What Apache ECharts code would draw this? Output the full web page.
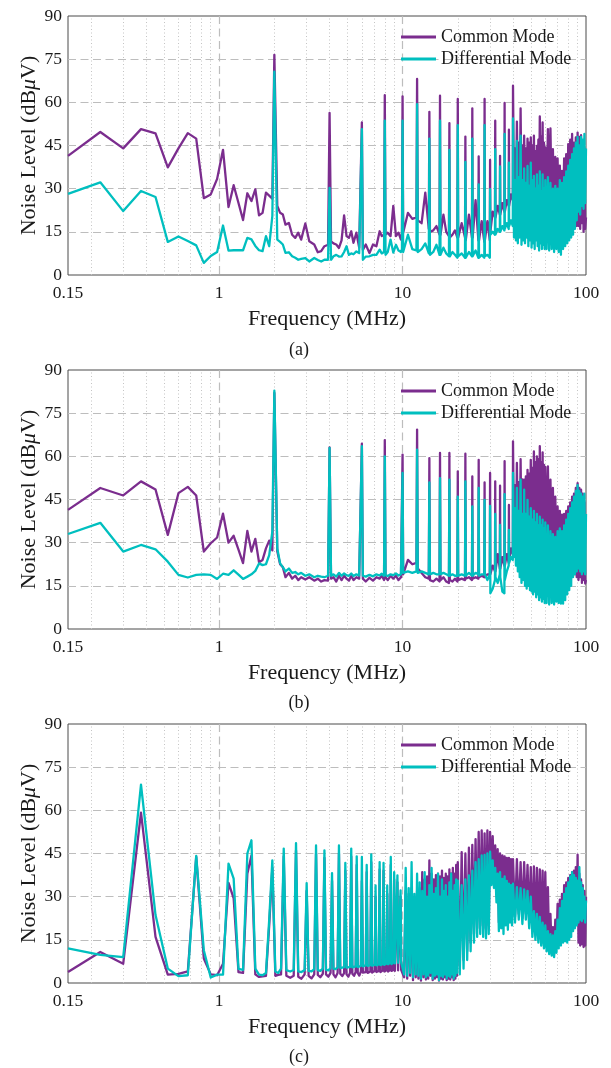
<!DOCTYPE html>
<html>
<head>
<meta charset="utf-8">
<script src="https://cdn.jsdelivr.net/npm/echarts@6/dist/echarts.min.js"></script>
<style>
  html, body { margin: 0; padding: 0; background: #fff; }
  #chart { width: 611px; height: 1068px; }
</style>
</head>
<body>
<div id="chart"></div>
<script>
// frequency grid (MHz) shared by panels (a) and (b)
const freqAB = [
  0.15, 0.225, 0.3, 0.375, 0.45, 0.525, 0.6, 0.675, 0.75, 0.825, 0.9, 0.975, 1.05, 1.125, 1.2, 1.275, 1.35, 1.425, 1.5, 1.575, 1.65, 1.725, 1.8, 1.875, 1.95, 2.0,
  2.075, 2.15, 2.225, 2.3, 2.4, 2.5, 2.6, 2.7, 2.8, 2.95, 3.1, 3.3, 3.45, 3.6, 3.75, 3.925, 4.0, 4.075, 4.2, 4.35, 4.5, 4.65, 4.8, 4.95, 5.1, 5.25, 5.4, 5.6, 5.8, 5.925, 6.0, 6.075, 6.3, 6.6, 6.9, 7.2, 7.5, 7.7, 7.925, 8.0, 8.075, 8.3, 8.6, 8.9, 9.2, 9.5, 9.8, 9.925, 10.0, 10.075,
  10.7, 11.3, 11.9, 12, 12.1, 12.7, 13.3, 13.9, 14, 14.1, 14.7, 15.3, 15.9, 16, 16.1, 16.7, 17.3, 17.9, 18, 18.1, 18.7, 19.3, 19.9, 20, 20.1,
  21, 21.9, 22, 22.1, 23, 23.9, 24, 24.1, 25, 25.9, 26, 26.1, 27, 27.9, 28, 28.1, 29, 29.9, 30, 30.1, 31, 31.9, 32, 32.1, 33, 33.9, 34, 34.1, 35, 35.9, 36, 36.1, 37, 37.9, 38, 38.1, 39, 39.9, 40,
  40.5, 41, 41.5, 42, 42.5, 43, 43.5, 44, 44.5, 45, 45.5, 46, 46.5, 47, 47.5, 48, 48.5, 49, 49.5, 50, 50.5, 51, 51.5, 52, 52.5, 53, 53.5, 54, 54.5, 55, 55.5, 56, 56.5, 57, 57.5, 58, 58.5, 59, 59.5, 60,
  61, 62, 63, 64, 65, 66, 67, 68, 69, 70, 71, 72, 73, 74, 75, 76, 77, 78, 79, 80, 81, 82, 83, 84, 85, 86, 87, 88, 89, 90, 91, 92, 93, 94, 95, 96, 97, 98, 99, 100
];

// (a) values, dBuV
const cmA = [
  41.4, 49.7, 44.0, 50.7, 49.2, 37.4, 44.0, 49.3, 47.4, 26.7, 28.0, 33.4, 43.5, 23.6, 31.2, 25.0, 19.1, 28.4, 25.7, 29.8, 20.7, 21.6, 28.6, 27.6, 26.5, 76.5,
  24.0, 21.6, 21.0, 17.5, 18.1, 14.0, 12.9, 14.7, 12.3, 17.9, 11.7, 10.6, 7.9, 8.3, 10.0, 10.5, 56.3, 11.7, 11.0, 10.6, 9.4, 12.0, 20.7, 13.5, 12.9, 15.2, 11.2, 14.7, 9.5, 10.0, 53.0, 8.7, 10.6, 7.6, 10.6, 10.0, 15.2, 13.5, 14.0, 62.5, 14.0, 14.7, 13.5, 24.0, 13.5, 14.7, 12.3, 14.7, 62.1, 14.7,
  21.6, 19.5, 20, 68.1, 19, 18, 28.6, 16, 56.7, 15, 15.5, 17, 14, 62.3, 14, 21, 15, 13.5, 52.8, 13, 14, 15.5, 13, 61.2, 13,
  18, 13, 48.1, 12, 21, 13, 57.9, 13, 26, 12, 41.2, 12, 18.7, 11.5, 61.2, 12, 18.7, 12, 40, 15, 22, 20, 53.6, 20, 24, 21, 41.4, 21, 25, 22, 59.8, 22, 26, 24, 50.5, 24, 28, 26, 65.8,
  26, 44, 25, 53.3, 27, 46, 24, 57.9, 26, 45, 25, 48.4, 27, 44, 24, 47.4, 26, 46, 25, 47.8, 27, 45, 26, 48.4, 24, 43, 27, 44.9, 25, 47, 26, 55.1, 28, 48, 25, 53, 27, 46, 26, 44.3,
  26, 50.7, 25, 50.9, 24, 43.7, 23, 41, 22, 40.5, 21, 38, 20, 36.2, 20, 40.5, 19, 42, 18, 45.5, 18, 47, 18, 49, 17, 46, 17, 47.8, 17, 49.5, 17, 48, 16, 48.6, 18, 45, 15, 44, 16, 20
];
const dmA = [
  28.2, 32.2, 22.2, 29.2, 27.1, 11.5, 13.4, 11.8, 10.3, 4.2, 6.6, 8.0, 17.2, 8.5, 8.6, 8.6, 8.6, 12.9, 12.4, 10.1, 8.6, 8.3, 13.5, 10.0, 20.5, 70.7,
  12.3, 11.5, 10.6, 7.7, 7.9, 6.5, 6.0, 5.3, 5.6, 5.9, 4.7, 5.9, 5.2, 4.7, 5.3, 5.3, 30.3, 5.3, 6.5, 7.0, 6.4, 6.5, 8.0, 10.0, 7.0, 7.5, 7.2, 8.2, 7.6, 7.8, 50.7, 5.3, 6.4, 6.5, 7.0, 7.0, 8.8, 7.5, 8.0, 53.6, 7.0, 8.0, 12.3, 7.8, 10.5, 8.5, 8.0, 9.0, 53.6, 8.0,
  14, 9, 8.5, 59.4, 8, 9, 11, 7.5, 47.4, 7, 8, 10.5, 7, 53.6, 7, 9.5, 7.5, 6.5, 43.5, 6.5, 8, 7, 6, 52.1, 6.5,
  7.5, 6, 39.3, 6, 8, 6.5, 47.4, 6.5, 8.5, 6, 31.5, 6, 7, 6, 52.1, 6.5, 7, 6, 29.8, 14, 15, 14, 43.7, 14, 16, 15, 37.7, 15, 17, 15.5, 49, 16, 18, 16, 39, 17, 19, 17, 54.4,
  13, 33, 12, 46.6, 11, 34, 13, 48.4, 10.5, 33, 12, 37, 11, 32, 13, 37.9, 10, 31, 12, 39, 9.5, 33, 11, 34.4, 9, 30, 12, 35, 10, 31, 8.5, 36, 11, 29, 9, 35, 10.5, 30, 9, 33,
  9, 34, 8.5, 32, 9, 30, 8, 31, 9, 30, 8, 33, 7, 32, 9, 34, 10, 36, 11, 38, 12, 40, 13, 42, 14, 44, 16, 46, 19, 48, 22, 45, 21, 48, 24, 47, 23, 49, 25, 44
];

// (b) values, dBuV
const cmB = [
  41.4, 49.0, 46.4, 51.3, 48.5, 32.7, 47.2, 49.4, 46.4, 26.9, 29.8, 31.8, 40.1, 30.0, 32.4, 27.6, 22.9, 34.1, 26.9, 31.3, 23.2, 24.0, 28.0, 30.7, 27.3, 82.0,
  27.0, 22.5, 21.5, 18.0, 19.5, 17.5, 18.5, 17.0, 18.0, 17.2, 18.0, 16.8, 17.5, 16.5, 17.0, 16.8, 63.1, 17.5, 18.0, 16.5, 18.5, 17.0, 18.5, 17.5, 16.8, 18.5, 17.0, 18.0, 17.5, 17.0, 64.4, 17.5, 16.5, 17.8, 16.8, 18.0, 17.5, 18.5, 17.0, 65.6, 18.0, 17.0, 18.5, 17.5, 18.5, 17.0, 18.0, 17.5, 60.6, 19.0,
  24, 22.5, 23, 69.3, 21, 19.5, 18, 17.5, 59.4, 17, 16.5, 17.5, 16.5, 61.2, 17, 18, 16.5, 16, 61.2, 17, 16.5, 17.5, 16.5, 54.8, 17,
  17.5, 17, 60.9, 17.5, 18, 17, 53, 17.5, 18, 17.5, 58.8, 18, 18.5, 18, 50.9, 18, 19, 19, 54.2, 19, 22, 20, 51.3, 20, 26, 21, 49.8, 21, 25, 22, 58.3, 22, 26, 23, 43.1, 24, 28, 26, 65.2,
  28, 50, 29, 57.7, 30, 51, 29, 59, 31, 52, 30, 51.9, 32, 53, 31, 55.3, 30, 54, 32, 58.8, 31, 56, 30, 61.7, 32, 58, 31, 60, 30, 59, 32, 63.5, 31, 58, 30, 61.4, 31, 57, 30, 56.3,
  29, 56.5, 28, 51.9, 27, 49, 26, 46, 25, 42.6, 24, 41, 23, 39.7, 22, 40, 22, 41, 21, 42.6, 20, 44, 20, 46, 19, 47, 19, 49, 18, 50.7, 17, 49, 18, 48.4, 16, 47, 17, 44, 15.8, 17
];
const dmB = [
  33.0, 36.9, 26.9, 29.2, 27.7, 23.4, 18.8, 17.9, 18.8, 19.0, 18.8, 17.4, 19.2, 18.8, 20.4, 18.9, 17.4, 18.2, 19.0, 20.2, 22.8, 22.2, 22.5, 25.7, 33.8, 82.8,
  28.0, 22.8, 21.5, 20.0, 21.0, 19.5, 19.8, 19.0, 19.5, 18.5, 19.0, 18.0, 18.5, 18.2, 18.0, 18.5, 62.9, 18.5, 19.0, 18.2, 19.5, 18.5, 19.3, 18.7, 18.5, 19.3, 18.4, 19.0, 18.6, 18.5, 63.5, 18.5, 18.2, 18.8, 18.3, 19.0, 18.6, 19.2, 18.5, 60.0, 18.8, 18.4, 19.0, 18.7, 19.3, 18.6, 19.0, 18.8, 54.2, 19.5,
  20, 19.5, 20, 62.3, 19.5, 20, 19.5, 19, 50.9, 19, 19.5, 19, 19, 52.4, 19, 19.5, 19, 18.5, 51.9, 18.5, 19, 18.5, 18.5, 46, 18.5,
  19, 18.5, 51.3, 18.5, 19.5, 18.5, 42.6, 18.5, 19.5, 19, 49, 18.5, 19, 19, 44.9, 19, 17, 19, 42.8, 12.4, 14, 17, 40, 18, 16, 19, 36.2, 18, 13, 12.4, 46.9, 17, 20, 22, 34.4, 23, 25, 24, 54.2,
  25, 42, 22, 49, 20, 41, 18, 51.9, 16, 40, 17, 48.4, 15, 40, 14, 44.9, 15, 39, 13.5, 42, 13, 38, 12, 41, 13, 37, 11, 40, 12, 36, 10, 39, 11, 36, 9.5, 38, 10.5, 35, 9, 37,
  9, 36, 8.5, 34, 9, 33, 8.5, 32, 9.5, 34, 9, 35, 8.8, 34, 8.8, 36, 10, 38, 12, 40, 13.5, 42, 15, 44, 18, 46, 19, 48, 20, 50, 21, 48, 20, 47, 19, 46, 20, 47, 19, 40
];

// (c) frequency grid (MHz) and values
const freqC = [
  0.15, 0.225, 0.3, 0.375, 0.45, 0.525, 0.6, 0.675, 0.75, 0.825, 0.9, 0.975, 1.05, 1.125, 1.2, 1.275, 1.35, 1.425, 1.5, 1.575, 1.65, 1.725, 1.8, 1.875, 1.95, 2.025, 2.1,
  2.175, 2.25, 2.325, 2.44, 2.55, 2.625, 2.7, 2.81, 2.925, 3.0, 3.075, 3.19, 3.3, 3.375, 3.45, 3.56, 3.675, 3.75, 3.825, 3.94, 4.05, 4.125, 4.2, 4.31, 4.425, 4.5, 4.575, 4.69, 4.8, 4.875, 4.95, 5.06, 5.175, 5.25, 5.325, 5.44, 5.55, 5.625, 5.7, 5.81,
  5.925, 6.0, 6.075, 6.3, 6.375, 6.45, 6.675, 6.75, 6.825, 7.05, 7.125, 7.2, 7.425, 7.5, 7.575, 7.8, 7.875, 7.95, 8.175, 8.25, 8.325, 8.55, 8.625, 8.7, 8.925, 9.0, 9.075, 9.3, 9.375, 9.45, 9.675, 9.75, 9.825,
  10.2, 10.4, 10.6, 10.8, 11, 11.2, 11.4, 11.6, 11.8, 12, 12.2, 12.4, 12.6, 12.8, 13, 13.2, 13.4, 13.6, 13.8, 14, 14.2, 14.4, 14.6, 14.8, 15, 15.2, 15.4, 15.6, 15.8, 16, 16.2, 16.4, 16.6, 16.8, 17, 17.2, 17.4, 17.6, 17.8, 18, 18.2, 18.4, 18.6, 18.8, 19, 19.2, 19.4, 19.6, 19.8, 20,
  20.5, 21, 21.5, 22, 22.5, 23, 23.5, 24, 24.5, 25, 25.5, 26, 26.5, 27, 27.5, 28, 28.5, 29, 29.5, 30, 30.5, 31, 31.5, 32, 32.5, 33, 33.5, 34, 34.5, 35, 35.5, 36, 36.5, 37, 37.5, 38, 38.5, 39, 39.5, 40,
  41, 42, 43, 44, 45, 46, 47, 48, 49, 50, 51, 52, 53, 54, 55, 56, 57, 58, 59, 60, 61, 62, 63, 64, 65, 66, 67, 68, 69, 70, 71, 72, 73, 74, 75, 76, 77, 78, 79, 80, 81, 82, 83, 84, 85, 86, 87, 88, 89, 90, 91, 92, 93, 94, 95, 96, 97, 98, 99, 100
];
const cmC = [
  3.8, 10.8, 6.7, 59.2, 16.0, 2.9, 3.2, 4.0, 43.8, 8.5, 3.0, 2.7, 6.7, 34.8, 29.4, 3.8, 3.5, 38.0, 44.3, 3.0, 2.1, 2.3, 2.5, 20.0, 40.0, 2.5, 2.8,
  3.0, 44.0, 2.5, 1.8, 2.5, 46.0, 2.2, 1.5, 3.0, 32.0, 2.5, 1.6, 3.0, 45.0, 2.8, 2.0, 3.2, 43.5, 3.0, 2.2, 3.5, 35.5, 3.0, 2.0, 3.5, 45.0, 3.2, 2.4, 3.4, 39.0, 3.0, 2.2, 3.6, 44.0, 3.2, 2.5, 3.8, 41.0, 3.4, 2.6,
  4.0, 35.4, 3.6, 3.8, 38.5, 3.5, 4.0, 42.0, 3.6, 4.2, 30.0, 3.8, 4.2, 39.5, 3.8, 4.4, 39.0, 4.0, 4.4, 31.0, 4.0, 4.6, 41.0, 4.2, 4.6, 36.0, 4.2, 4.8, 35.0, 4.4, 5.0, 30.0, 4.6,
  2, 32, 1.5, 31, 2.5, 33, 1, 30, 2, 32, 1.5, 33, 0.8, 38.5, 2, 36, 1.2, 37, 1.5, 42.6, 2.5, 38, 1, 36, 1.5, 37.5, 2, 38, 0.8, 37, 1.5, 39, 1.2, 36.5, 2, 38, 1, 37, 1.5, 39.5, 1.2, 38, 2, 40, 1, 38, 1.5, 41, 2.5, 42,
  6, 45.5, 8, 45, 11, 47, 14, 48, 17, 50, 19, 52.5, 20, 53, 19, 52, 18.5, 53, 20, 52.5, 37, 51, 36, 47.8, 31, 46.5, 21, 45, 22, 44.3, 20, 44, 23, 43.5, 21.5, 43.5, 24, 43, 23, 43,
  23, 43, 24, 42, 22.5, 42, 24, 41, 21, 40.3, 18, 40.5, 17, 40, 16, 39.5, 15, 39, 14, 38.5, 13, 33.3, 12, 24, 11, 19.4, 10, 22, 12, 27.5, 14, 29, 15, 31, 16, 34, 16.5, 35, 16, 36.5, 17, 37.5, 18, 38.5, 20, 39, 21, 40.3, 22, 44.6, 14, 38, 13, 36, 13.5, 34, 12.5, 32, 13, 30
];
const dmC = [
  12.0, 9.8, 9.0, 68.9, 23.6, 5.0, 2.4, 2.7, 44.2, 11.4, 1.9, 2.9, 2.9, 41.5, 36.3, 4.9, 4.6, 45.0, 49.6, 5.0, 2.9, 2.7, 3.5, 22.0, 42.6, 4.0, 3.5,
  5.0, 46.7, 4.5, 4.0, 4.5, 48.6, 4.0, 3.8, 4.5, 34.7, 4.2, 4.0, 4.8, 47.8, 4.5, 4.2, 5.0, 46.1, 4.6, 4.4, 5.2, 38.2, 5.0, 4.8, 5.4, 47.8, 5.2, 5.0, 5.5, 41.7, 5.3, 5.1, 5.6, 46.7, 5.4, 5.2, 5.8, 44.0, 5.5, 5.3,
  6.0, 43.8, 5.8, 6.2, 41.0, 5.9, 6.2, 44.7, 6.0, 6.4, 33.9, 6.1, 6.5, 42.0, 6.2, 6.6, 41.7, 6.3, 6.8, 33.9, 6.5, 7.0, 43.8, 6.6, 7.2, 38.5, 6.8, 7.4, 37.4, 7.0, 7.5, 32.2, 7.2,
  3, 40, 2.5, 33, 3.5, 42, 2, 31, 3, 38, 2.5, 35, 1.5, 32, 3, 38.5, 2, 30, 2.5, 34, 3.5, 40, 1.5, 31, 2.5, 33, 3, 38, 1, 30, 2.5, 36, 2, 32, 3, 34, 1.5, 30, 2.5, 35, 2, 38, 3, 32, 1.5, 34, 2.5, 36, 3.5, 35.6,
  3, 34, 5, 36, 8, 37.4, 11, 39, 14, 42, 16, 43, 17, 44.3, 16, 44.5, 15.5, 45, 17, 45.6, 34, 42.6, 33, 40, 28, 38, 18, 38.5, 19, 36.2, 17, 37, 20, 35.5, 18.5, 34.5, 21, 34, 20, 34.5,
  21, 33.3, 22, 33, 20.5, 32.5, 22, 32, 19, 30, 16, 25, 15, 24, 14, 23, 13, 21, 12, 20, 11, 18, 10, 17, 9.5, 16.5, 9, 18, 10.5, 22, 12, 26, 13, 28.5, 14, 31, 14.5, 33, 14, 35, 15, 37, 16, 38.5, 18, 37.5, 19, 36.5, 20, 35.6, 21, 40.3, 22, 35, 21.5, 33, 22.5, 30, 21, 28.7
];

const xTickLabels = ["0.15", "1", "10", "100"];
const minorFreqs = [0.2, 0.3, 0.4, 0.5, 0.6, 0.7, 0.8, 0.9, 2, 3, 4, 5, 6, 7, 8, 9, 20, 30, 40, 50, 60, 70, 80, 90];
const legendNames = ["Common Mode", "Differential Mode"];
const captions = ["(a)", "(b)", "(c)"];

const FONT = "Liberation Serif, Times New Roman, serif";
const CM_COLOR = "#7b2d8e";
const DM_COLOR = "#00bfbf";
const TEXT = "#1a1a1a";
const LINE_W = 2.3;

const panels = [
  { freq: freqAB, cm: cmA, dm: dmA, top: 16, legendTop: 26, captionY: 350 },
  { freq: freqAB, cm: cmB, dm: dmB, top: 370, legendTop: 380, captionY: 703 },
  { freq: freqC, cm: cmC, dm: dmC, top: 724, legendTop: 734, captionY: 1057 },
];

function pairs(freq, vals) {
  return freq.map((f, i) => [f, vals[i]]);
}

function tickLabel(v) {
  const hit = xTickLabels.find((s) => Math.abs(Number(s) - v) <= 1e-6 * Math.max(1, v));
  return hit || "";
}

const grids = [];
const xAxes = [];
const yAxes = [];
const series = [];
const legends = [];

panels.forEach((p, i) => {
  grids.push({
    left: 68, top: p.top, width: 518, height: 259,
    show: true, borderColor: "#4a4a4a", borderWidth: 1, backgroundColor: "transparent",
  });
  xAxes.push({
    type: "log", logBase: 10, min: 0.15, max: 100, gridIndex: i,
    name: "Frequency (MHz)", nameLocation: "middle", nameGap: 33, nameMoveOverlap: false,
    nameTextStyle: { fontFamily: FONT, fontSize: 22, color: TEXT },
    axisLine: { show: false }, axisTick: { show: false },
    axisLabel: { fontFamily: FONT, fontSize: 17.5, color: TEXT, margin: 9, formatter: tickLabel, showMinLabel: true, showMaxLabel: true },
    splitLine: { show: true, showMinLine: false, showMaxLine: false, lineStyle: { color: "#bdbdbd", width: 1.2, type: [8, 4.5] } },
  });
  yAxes.push({
    type: "value", min: 0, max: 90, interval: 15, gridIndex: i,
    name: "Noise Level (dB{mu|μ}V)", nameLocation: "middle", nameGap: 28, nameMoveOverlap: false,
    nameTextStyle: { fontFamily: FONT, fontSize: 22, color: TEXT, rich: { mu: { fontFamily: FONT, fontSize: 22, fontStyle: "italic", color: TEXT } } },
    axisLine: { show: false }, axisTick: { show: false },
    axisLabel: { fontFamily: FONT, fontSize: 17.5, color: TEXT, margin: 6 },
    splitLine: { show: true, showMinLine: false, showMaxLine: false, lineStyle: { color: "#bdbdbd", width: 1.2, type: [8, 4.5] } },
  });
  // minor (dotted) vertical grid lines at 2..9 of each decade
  series.push({
    type: "line", xAxisIndex: i, yAxisIndex: i, data: [], silent: true, z: 1,
    markLine: {
      z: 1, silent: true, animation: false, symbol: ["none", "none"], label: { show: false },
      lineStyle: { color: "#c4c4c4", width: 1, type: [1, 2.5] },
      data: minorFreqs.map((f) => ({ xAxis: f })),
    },
  });
  series.push({
    name: legendNames[0], type: "line", xAxisIndex: i, yAxisIndex: i, z: 2,
    data: pairs(p.freq, p.cm), showSymbol: false, symbol: "none",
    lineStyle: { color: CM_COLOR, width: LINE_W, join: "round" }, itemStyle: { color: CM_COLOR },
  });
  series.push({
    name: legendNames[1], type: "line", xAxisIndex: i, yAxisIndex: i, z: 3,
    data: pairs(p.freq, p.dm), showSymbol: false, symbol: "none",
    lineStyle: { color: DM_COLOR, width: LINE_W, join: "round" }, itemStyle: { color: DM_COLOR },
  });
  legends.push({
    data: legendNames, orient: "vertical", left: 401, top: p.legendTop,
    icon: "rect", itemWidth: 35, itemHeight: 3, itemGap: 0, padding: 0,
    selectedMode: false,
    textStyle: { fontFamily: FONT, fontSize: 18, color: TEXT, lineHeight: 22, padding: [0, 0, 0, 0] },
  });
});

const chart = echarts.init(document.getElementById("chart"), null, { renderer: "canvas" });
chart.setOption({
  animation: false,
  backgroundColor: "#ffffff",
  grid: grids,
  xAxis: xAxes,
  yAxis: yAxes,
  legend: legends,
  series: series,
  graphic: captions.map((c, i) => ({
    type: "text", x: 299, y: panels[i].captionY,
    style: { text: c, fontFamily: FONT, fontSize: 18, fill: TEXT, align: "center", verticalAlign: "middle" },
  })),
});
</script>
</body>
</html>
